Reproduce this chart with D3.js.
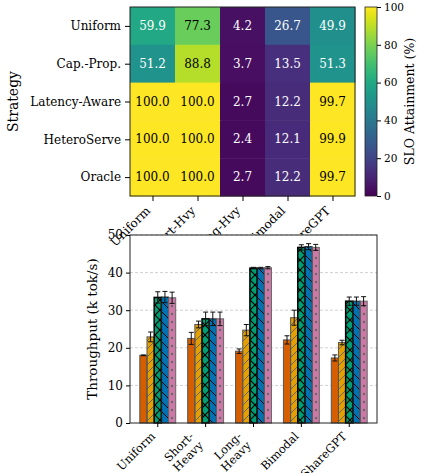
<!DOCTYPE html>
<html>
<head>
<meta charset="UTF-8">
<style>
  body { margin: 0; background: #fff; }
  svg { display: block; }
  text { font-family: "DejaVu Serif", serif; }
</style>
<script src="https://d3js.org/d3.v7.min.js"></script>
</head>
<body>
<svg id="chart" width="422" height="473"></svg>
<script>
// --- data ---
const strategies = ["Uniform", "Cap.-Prop.", "Latency-Aware", "HeteroServe", "Oracle"];
const workloadsShort = ["Uniform", "Short-Hvy", "Long-Hvy", "Bimodal", "ShareGPT"];
const workloadsLong = [["Uniform"], ["Short-", "Heavy"], ["Long-", "Heavy"], ["Bimodal"], ["ShareGPT"]];

// SLO attainment (%), rows = strategies, cols = workloads
const slo = [
  [59.9, 77.3, 4.2, 26.7, 49.9],
  [51.2, 88.8, 3.7, 13.5, 51.3],
  [100.0, 100.0, 2.7, 12.2, 99.7],
  [100.0, 100.0, 2.4, 12.1, 99.9],
  [100.0, 100.0, 2.7, 12.2, 99.7]
];

// throughput (k tok/s), rows = strategies, cols = workloads
const tput = [
  [18.0, 22.5, 19.1, 22.1, 17.3],
  [22.9, 26.2, 24.7, 28.0, 21.4],
  [33.4, 27.7, 41.2, 46.7, 32.4],
  [33.5, 27.7, 41.2, 46.9, 32.4],
  [33.3, 27.7, 41.3, 46.7, 32.4]
];
const tputErr = [
  [0.1, 1.6, 0.6, 1.1, 0.8],
  [1.3, 0.9, 1.5, 2.0, 0.6],
  [1.5, 1.8, 0.2, 0.7, 1.1],
  [1.5, 1.8, 0.2, 0.8, 1.1],
  [1.5, 1.8, 0.3, 0.8, 1.2]
];
const colorTicks = [0, 20, 40, 60, 80, 100];
const tputTicks = [0, 10, 20, 30, 40, 50];

const barFill = ["#D55E00", "#E69F00", "#009E73", "#0072B2", "#CC79A7"];
const barEdge = ["#555", "#555", "#000", "#222", "#666"];

const svg = d3.select("#chart");
const defs = svg.append("defs");

// hatch patterns
function linePattern(id, paths, stroke, w, size) {
  const p = defs.append("pattern").attr("id", id)
    .attr("patternUnits", "userSpaceOnUse").attr("width", size).attr("height", size);
  paths.forEach(d => p.append("path").attr("d", d).attr("stroke", stroke)
    .attr("stroke-width", w).attr("fill", "none"));
}
linePattern("h-slash", ["M0,8 L8,0", "M-2,2 L2,-2", "M6,10 L10,6"], "#666", 1, 8);
linePattern("h-x", ["M0,10 L10,0", "M-2,2 L2,-2", "M8,12 L12,8",
                    "M0,0 L10,10", "M-2,8 L2,12", "M8,-2 L12,2"], "#000", 1.2, 10);
linePattern("h-back", ["M0,0 L10,10", "M-2,8 L2,12", "M8,-2 L12,2"], "#000", 1, 10);
{
  const p = defs.append("pattern").attr("id", "h-dot")
    .attr("patternUnits", "userSpaceOnUse").attr("width", 8).attr("height", 8);
  p.append("circle").attr("cx", 4).attr("cy", 2).attr("r", 1.2).attr("fill", "#666");
}
const hatch = [null, "h-slash", "h-x", "h-back", "h-dot"];

// ================= heatmap =================
const hm = { left: 130, top: 7, right: 355, bottom: 196 };
const hx = d3.scaleBand().domain(d3.range(5)).range([hm.left, hm.right]);
const hy = d3.scaleBand().domain(d3.range(5)).range([hm.top, hm.bottom]);
const cscale = v => d3.interpolateViridis(v / 100);

const cells = [];
slo.forEach((row, r) => row.forEach((v, c) => cells.push({ r, c, v })));

svg.append("g").selectAll("rect").data(cells).join("rect")
  .attr("x", d => hx(d.c)).attr("y", d => hy(d.r))
  .attr("width", hx.bandwidth() + 0.5).attr("height", hy.bandwidth() + 0.5)
  .attr("fill", d => cscale(d.v));

svg.append("g").selectAll("text").data(cells).join("text")
  .attr("x", d => hx(d.c) + hx.bandwidth() / 2)
  .attr("y", d => hy(d.r) + hy.bandwidth() / 2)
  .attr("text-anchor", "middle").attr("dominant-baseline", "central")
  .attr("font-size", 12)
  .attr("fill", d => d.v > 60 ? "#000" : "#fff")
  .text(d => d.v.toFixed(1));

svg.append("rect").attr("x", hm.left).attr("y", hm.top)
  .attr("width", hm.right - hm.left).attr("height", hm.bottom - hm.top)
  .attr("fill", "none").attr("stroke", "#222").attr("stroke-width", 1);

// heatmap y axis
const hyAxis = svg.append("g").attr("transform", `translate(${hm.left},0)`)
  .call(d3.axisLeft(d3.scalePoint().domain(strategies)
    .range([hm.top + hy.bandwidth() / 2, hm.bottom - hy.bandwidth() / 2]))
    .tickSize(5).tickPadding(4));
hyAxis.select(".domain").remove();
hyAxis.selectAll("text").attr("font-size", 12).attr("font-family", "DejaVu Serif");

svg.append("text").attr("transform", `translate(18,${(hm.top + hm.bottom) / 2}) rotate(-90)`)
  .attr("text-anchor", "middle").attr("font-size", 14).text("Strategy");

// heatmap x axis
const hxPts = d3.scalePoint().domain(workloadsShort)
  .range([hm.left + hx.bandwidth() / 2, hm.right - hx.bandwidth() / 2]);
const hxAxis = svg.append("g").attr("transform", `translate(0,${hm.bottom})`)
  .call(d3.axisBottom(hxPts).tickSize(5).tickSizeOuter(0));
hxAxis.select(".domain").remove();
hxAxis.selectAll("text").attr("font-size", 12).attr("font-family", "DejaVu Serif")
  .attr("text-anchor", "end").attr("dy", 0).attr("y", 0)
  .attr("transform", "translate(-2,15.5) rotate(-45)");

// colorbar
const cb = { left: 365, right: 377, top: 7, bottom: 196 };
const grad = defs.append("linearGradient").attr("id", "viridis")
  .attr("x1", 0).attr("y1", 1).attr("x2", 0).attr("y2", 0);
d3.range(0, 1.001, 0.05).forEach(t => grad.append("stop")
  .attr("offset", t).attr("stop-color", d3.interpolateViridis(t)));
svg.append("rect").attr("x", cb.left).attr("y", cb.top)
  .attr("width", cb.right - cb.left).attr("height", cb.bottom - cb.top)
  .attr("fill", "url(#viridis)").attr("stroke", "#222").attr("stroke-width", 0.8);
const cy = d3.scaleLinear().domain([0, 100]).range([cb.bottom, cb.top]);
const cbAxis = svg.append("g").attr("transform", `translate(${cb.right},0)`)
  .call(d3.axisRight(cy).tickValues(colorTicks).tickSize(4).tickPadding(3));
cbAxis.select(".domain").remove();
cbAxis.selectAll("text").attr("font-size", 10.5).attr("font-family", "DejaVu Serif");
svg.append("text").attr("transform", `translate(414,${(cb.top + cb.bottom) / 2}) rotate(-90)`)
  .attr("text-anchor", "middle").attr("font-size", 12.5).text("SLO Attainment (%)");

// ================= bar chart =================
const bc = { left: 130, right: 377, top: 235, bottom: 423 };
// white axes patch covers overflowing heatmap labels
svg.append("rect").attr("x", bc.left).attr("y", bc.top)
  .attr("width", bc.right - bc.left).attr("height", bc.bottom - bc.top).attr("fill", "#fff");

const bx = d3.scaleLinear().domain([-0.58, 4.58]).range([bc.left, bc.right]);
const by = d3.scaleLinear().domain([0, 50]).range([bc.bottom, bc.top]);
const bw = 0.15;

svg.append("g").selectAll("line").data(tputTicks.slice(1)).join("line")
  .attr("x1", bc.left).attr("x2", bc.right)
  .attr("y1", d => by(d)).attr("y2", d => by(d))
  .attr("stroke", "#bbb").attr("stroke-width", 0.7).attr("stroke-dasharray", "3,2");

const bars = [];
tput.forEach((row, s) => row.forEach((v, w) => bars.push({ s, w, v, e: tputErr[s][w] })));
const bxPos = d => bx(d.w + (d.s - 2) * bw - bw / 2);
const bgr = svg.append("g");
bgr.selectAll("rect.f").data(bars).join("rect").attr("class", "f")
  .attr("x", bxPos).attr("y", d => by(d.v))
  .attr("width", bx(bw) - bx(0)).attr("height", d => by(0) - by(d.v))
  .attr("fill", d => barFill[d.s]);
bgr.selectAll("rect.h").data(bars.filter(d => hatch[d.s])).join("rect").attr("class", "h")
  .attr("x", bxPos).attr("y", d => by(d.v))
  .attr("width", bx(bw) - bx(0)).attr("height", d => by(0) - by(d.v))
  .attr("fill", d => `url(#${hatch[d.s]})`);
bgr.selectAll("rect.e").data(bars).join("rect").attr("class", "e")
  .attr("x", bxPos).attr("y", d => by(d.v))
  .attr("width", bx(bw) - bx(0)).attr("height", d => by(0) - by(d.v))
  .attr("fill", "none").attr("stroke", d => barEdge[d.s])
  .attr("stroke-width", d => d.s === 2 ? 1.5 : 1);

// error bars
const eg = svg.append("g").attr("stroke", "#111").attr("stroke-width", 1);
bars.forEach(d => {
  const cx = bx(d.w + (d.s - 2) * bw);
  eg.append("line").attr("x1", cx).attr("x2", cx)
    .attr("y1", by(d.v - d.e)).attr("y2", by(d.v + d.e));
  [d.v - d.e, d.v + d.e].forEach(y => eg.append("line")
    .attr("x1", cx - 2.5).attr("x2", cx + 2.5).attr("y1", by(y)).attr("y2", by(y)));
});

svg.append("rect").attr("x", bc.left).attr("y", bc.top)
  .attr("width", bc.right - bc.left).attr("height", bc.bottom - bc.top)
  .attr("fill", "none").attr("stroke", "#222").attr("stroke-width", 1);

const byAxis = svg.append("g").attr("transform", `translate(${bc.left},0)`)
  .call(d3.axisLeft(by).tickValues(tputTicks).tickSize(4).tickPadding(3));
byAxis.select(".domain").remove();
byAxis.selectAll("text").attr("font-size", 12).attr("font-family", "DejaVu Serif");

svg.append("text").attr("transform", `translate(97,${(bc.top + bc.bottom) / 2}) rotate(-90)`)
  .attr("text-anchor", "middle").attr("font-size", 13.5).text("Throughput (k tok/s)");

// bar x axis
const bxAxis = svg.append("g").attr("transform", `translate(0,${bc.bottom})`);
const lh = 13;
workloadsLong.forEach((lines, i) => {
  const x = bx(i);
  bxAxis.append("line").attr("x1", x).attr("x2", x).attr("y1", 0).attr("y2", 4)
    .attr("stroke", "#000");
  const ox = x - 1.9 - (lines.length - 1) * lh * Math.SQRT1_2;
  const t = bxAxis.append("text")
    .attr("transform", `translate(${ox},14) rotate(-45)`)
    .attr("text-anchor", "end").attr("font-size", 11.5);
  lines.forEach((ln, k) => t.append("tspan").attr("x", 0).attr("y", k * lh).text(ln));
});
</script>
</body>
</html>
